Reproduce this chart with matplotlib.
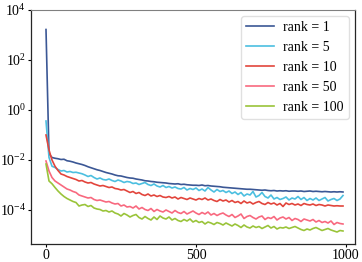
import numpy as np
import matplotlib.pyplot as plt

plt.rcParams['font.family'] = ['Liberation Serif', 'DejaVu Serif']
plt.rcParams['mathtext.fontset'] = 'stix'

# iterations (step 10)
steps = np.arange(0, 1000, 10)

# log10 of the loss for each rank
log_rank1 = [
    3.22, -1.75, -1.90, -1.93, -1.95, -1.98, -1.97, -2.03, -2.05, -2.08,
    -2.12, -2.15, -2.18, -2.22, -2.27, -2.31, -2.35, -2.39, -2.42, -2.46,
    -2.50, -2.53, -2.56, -2.60, -2.63, -2.64, -2.67, -2.70, -2.72, -2.73,
    -2.76, -2.78, -2.80, -2.83, -2.84, -2.86, -2.87, -2.89, -2.90, -2.91,
    -2.92, -2.94, -2.95, -2.96, -2.95, -2.98, -2.97, -2.99, -3.00, -3.01,
    -3.01, -3.02, -3.00, -3.03, -3.02, -3.04, -3.05, -3.06, -3.07, -3.09,
    -3.10, -3.11, -3.12, -3.13, -3.14, -3.15, -3.16, -3.17, -3.17, -3.18,
    -3.19, -3.20, -3.21, -3.20, -3.22, -3.23, -3.22, -3.24, -3.23, -3.24,
    -3.23, -3.25, -3.24, -3.24, -3.25, -3.24, -3.26, -3.25, -3.24, -3.26,
    -3.25, -3.26, -3.27, -3.26, -3.27, -3.28, -3.27, -3.28, -3.27, -3.28]
log_rank5 = [
    -0.44, -1.90, -2.25, -2.30, -2.38, -2.44, -2.42, -2.48, -2.46, -2.50,
    -2.49, -2.52, -2.55, -2.60, -2.66, -2.62, -2.70, -2.76, -2.72, -2.78,
    -2.80, -2.76, -2.82, -2.86, -2.80, -2.84, -2.90, -2.86, -2.88, -2.94,
    -2.92, -2.98, -2.94, -2.90, -2.98, -3.02, -2.96, -3.04, -3.08, -3.02,
    -3.10, -3.06, -3.12, -3.08, -3.14, -3.16, -3.10, -3.20, -3.14, -3.18,
    -3.12, -3.22, -3.16, -3.24, -3.10, -3.20, -3.28, -3.18, -3.26, -3.22,
    -3.30, -3.24, -3.34, -3.28, -3.38, -3.30, -3.44, -3.36, -3.40, -3.26,
    -3.48, -3.42, -3.30, -3.46, -3.52, -3.40, -3.56, -3.50, -3.58, -3.54,
    -3.48, -3.60, -3.52, -3.56, -3.46, -3.58, -3.50, -3.62, -3.54, -3.60,
    -3.52, -3.62, -3.56, -3.50, -3.64, -3.58, -3.54, -3.62, -3.56, -3.42]
log_rank10 = [
    -1.00, -1.60, -2.00, -2.25, -2.42, -2.56, -2.60, -2.66, -2.70, -2.74,
    -2.78, -2.84, -2.82, -2.88, -2.92, -2.90, -2.96, -3.00, -3.04, -3.02,
    -3.06, -3.10, -3.08, -3.14, -3.16, -3.20, -3.18, -3.24, -3.30, -3.26,
    -3.34, -3.30, -3.38, -3.42, -3.36, -3.44, -3.40, -3.46, -3.42, -3.48,
    -3.50, -3.46, -3.52, -3.48, -3.56, -3.50, -3.54, -3.58, -3.52, -3.56,
    -3.60, -3.54, -3.58, -3.52, -3.60, -3.56, -3.62, -3.66, -3.58, -3.64,
    -3.60, -3.68, -3.62, -3.70, -3.66, -3.74, -3.64, -3.72, -3.68, -3.76,
    -3.70, -3.66, -3.74, -3.78, -3.70, -3.76, -3.72, -3.80, -3.74, -3.86,
    -3.72, -3.78, -3.74, -3.80, -3.76, -3.82, -3.74, -3.78, -3.80, -3.76,
    -3.82, -3.78, -3.80, -3.84, -3.80, -3.82, -3.84, -3.83, -3.84, -3.84]
log_rank50 = [
    -2.04, -2.44, -2.70, -2.84, -2.92, -3.00, -3.08, -3.16, -3.20, -3.26,
    -3.30, -3.40, -3.44, -3.48, -3.52, -3.50, -3.58, -3.62, -3.60, -3.64,
    -3.68, -3.66, -3.72, -3.76, -3.74, -3.84, -3.80, -3.88, -3.86, -3.92,
    -3.84, -3.96, -3.90, -3.98, -4.02, -3.94, -4.06, -3.98, -4.04, -4.08,
    -4.00, -4.06, -4.12, -4.02, -4.10, -4.14, -4.06, -4.16, -4.10, -4.04,
    -4.12, -4.18, -4.10, -4.16, -4.08, -4.20, -4.14, -4.22, -4.16, -4.12,
    -4.20, -4.26, -4.18, -4.30, -4.24, -4.16, -4.34, -4.26, -4.22, -4.30,
    -4.36, -4.28, -4.24, -4.38, -4.30, -4.34, -4.26, -4.40, -4.32, -4.28,
    -4.36, -4.30, -4.42, -4.34, -4.38, -4.46, -4.36, -4.40, -4.44, -4.38,
    -4.48, -4.42, -4.50, -4.46, -4.52, -4.44, -4.58, -4.50, -4.54, -4.56]
log_rank100 = [
    -2.16, -2.84, -2.95, -3.10, -3.24, -3.36, -3.46, -3.54, -3.60, -3.66,
    -3.70, -3.84, -3.80, -3.78, -3.86, -3.82, -3.92, -3.96, -3.98, -4.04,
    -4.02, -4.08, -4.04, -4.12, -4.16, -4.24, -4.14, -4.20, -4.28, -4.22,
    -4.18, -4.30, -4.36, -4.26, -4.34, -4.40, -4.28, -4.38, -4.24, -4.32,
    -4.36, -4.28, -4.40, -4.34, -4.42, -4.46, -4.38, -4.44, -4.36, -4.48,
    -4.42, -4.50, -4.46, -4.56, -4.48, -4.52, -4.58, -4.50, -4.54, -4.60,
    -4.52, -4.58, -4.64, -4.56, -4.62, -4.70, -4.60, -4.68, -4.72, -4.64,
    -4.70, -4.66, -4.74, -4.68, -4.62, -4.72, -4.66, -4.76, -4.70, -4.72,
    -4.68, -4.74, -4.70, -4.66, -4.72, -4.78, -4.82, -4.76, -4.80, -4.74,
    -4.70, -4.76, -4.82, -4.78, -4.74, -4.80, -4.84, -4.88, -4.82, -4.84]

labels = ['rank = 1', 'rank = 5', 'rank = 10', 'rank = 50', 'rank = 100']
colors = ['#3b5795', '#4cbfe0', '#e2453c', '#f8697f', '#9ac43a']
series = [log_rank1, log_rank5, log_rank10, log_rank50, log_rank100]

fig = plt.figure(figsize=(3.62, 2.62), dpi=100)
ax = fig.add_axes([31 / 362, 18 / 262, 324 / 362, 234 / 262])

for vals, lab, col in zip(series, labels, colors):
    ax.plot(steps, 10 ** np.array(vals), color=col, lw=1.2, label=lab)

ax.set_yscale('log')
ax.set_ylim(10 ** -5.36, 1e4)
ax.set_xlim(-50, 1030)
ax.set_yticks([1e-4, 1e-2, 1e0, 1e2, 1e4])
ax.minorticks_off()
ax.set_xticks([0, 500, 1000])
ax.tick_params(labelsize=10, length=2, width=0.8, pad=1.5)

for side in ['left', 'bottom', 'right']:
    ax.spines[side].set_color('0.15')
    ax.spines[side].set_linewidth(0.9)
ax.spines['top'].set_color('0.5')

ax.legend(loc='upper right', fontsize=10, handlelength=2.0,
          handletextpad=0.7, borderpad=0.35,
          frameon=True, fancybox=True, edgecolor='0.85',
          borderaxespad=0.45)

plt.savefig('out.png', dpi=100)
